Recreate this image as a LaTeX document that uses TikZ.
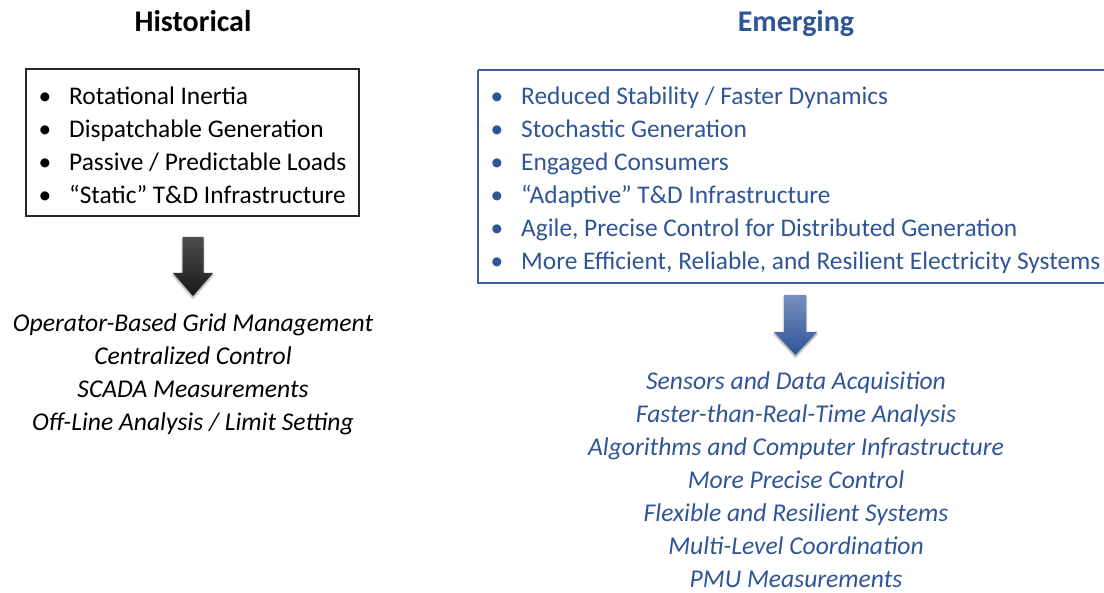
\documentclass[tikz,border=0pt]{standalone}
\usepackage{fontspec}
\setmainfont{Carlito}
\usetikzlibrary{shadows.blur}
\definecolor{eblue}{HTML}{2F5597}
\definecolor{bordblue}{HTML}{3A5FA3}
\begin{document}
\begin{tikzpicture}[x=1pt,y=-1pt,
  title/.style={anchor=base,font=\fontsize{30}{34}\selectfont\bfseries,inner sep=0},
  item/.style={anchor=base west,font=\fontsize{25.4}{30}\selectfont,inner sep=0},
  bul/.style={anchor=base,font=\fontsize{25.4}{30}\selectfont,inner sep=0},
  outtext/.style={anchor=base,font=\fontsize{25.6}{30}\selectfont\itshape,inner sep=0},
  arrowshape/.style={blur shadow={shadow xshift=0pt,shadow yshift=-2pt,shadow blur steps=6,shadow opacity=40}}]
\useasboundingbox (0,0) rectangle (1104,593);
% titles
\node[title] (th) at (193,31.5) {Historical};
\node[title,text=eblue] (te) at (796,31.5) {Emerging};
% left box
\draw[line width=2pt,color=black!85] (26,69) rectangle (359,216);
\foreach \t [count=\i] in {Rotational Inertia,Dispatchable Generation,Passive / Predictable Loads,``Static'' T\&D Infrastructure}{
  \node[bul] (lb\i) at (45,{104.5+33*(\i-1)}) {•};
  \node[item] (li\i) at (69,{104.5+33*(\i-1)}) {\t};
}
% right box
\draw[line width=2.6pt,color=bordblue] (478,70) -- (1112,70) (478,70) -- (478,283) -- (1112,283);
\foreach \t [count=\i] in {Reduced Stability / Faster Dynamics,Stochastic Generation,Engaged Consumers,``Adaptive'' T\&D Infrastructure,{Agile, Precise Control for Distributed Generation},{More Efficient, Reliable, and Resilient Electricity Systems}}{
  \node[bul,text=eblue] (rb\i) at (497,{104.5+33*(\i-1)}) {•};
  \node[item,text=eblue] (ri\i) at (521,{104.5+33*(\i-1)}) {\t};
}
% arrows
\shade[top color=black!70,bottom color=black!90,arrowshape]
  (182.5,237) -- (203.5,237) -- (203.5,273) -- (213,273) -- (193,296) -- (173,273) -- (182.5,273) -- cycle;
\shade[top color=bordblue!70!white,bottom color=eblue,arrowshape]
  (784,295) -- (806,295) -- (806,332) -- (817,332) -- (795.5,355) -- (774,332) -- (784,332) -- cycle;
% outputs
\foreach \t [count=\i] in {Operator-Based Grid Management,Centralized Control,SCADA Measurements,Off-Line Analysis / Limit Setting}{
  \node[outtext] (lo\i) at (193,{331.5+33*(\i-1)}) {\t};
}
\foreach \t [count=\i] in {Sensors and Data Acquisition,Faster-than-Real-Time Analysis,Algorithms and Computer Infrastructure,More Precise Control,Flexible and Resilient Systems,Multi-Level Coordination,PMU Measurements}{
  \node[outtext,text=eblue] (ro\i) at (796,{389.5+33*(\i-1)}) {\t};
}
\end{tikzpicture}
\end{document}
